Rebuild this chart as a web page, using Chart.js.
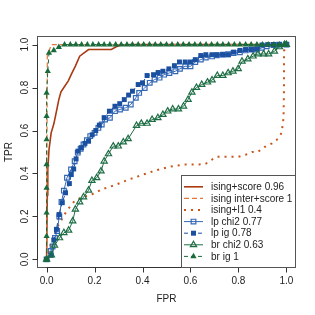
<!DOCTYPE html>
<html><head><meta charset="utf-8">
<script src="https://cdn.jsdelivr.net/npm/chart.js@4/dist/chart.umd.min.js"></script>
<style>html,body{margin:0;padding:0;background:#fff}#wrap{width:315px;height:315px}</style>
</head><body><div id="wrap"><canvas id="c" width="315" height="315"></canvas></div>
<script>
// ---- data ----
const xTicks = [0, 0.2, 0.4, 0.6, 0.8, 1];
const yTicks = [0, 0.2, 0.4, 0.6, 0.8, 1];
const xTickLabels = ["0.0", "0.2", "0.4", "0.6", "0.8", "1.0"];
const yTickLabels = ["0.0", "0.2", "0.4", "0.6", "0.8", "1.0"];
const xTitle = "FPR";
const yTitle = "TPR";
const seriesNames = ["ising+score 0.96", "ising inter+score 1", "ising+l1 0.4", "lp chi2 0.77", "lp ig 0.78", "br chi2 0.63", "br ig 1"];

const isingScoreFpr = [0, 0.003, 0.005, 0.01, 0.019, 0.03, 0.037, 0.051, 0.06, 0.072, 0.09, 0.106, 0.12, 0.138, 0.155, 0.175, 0.2, 0.25, 0.27, 0.29, 0.306, 0.35, 1];
const isingScoreTpr = [0, 0.3, 0.42, 0.51, 0.589, 0.63, 0.667, 0.744, 0.78, 0.80, 0.83, 0.868, 0.9, 0.946, 0.96, 0.977, 0.977, 0.977, 0.977, 0.99, 0.997, 1, 1];

const isingInterFpr = [0, 0.003, 0.02, 1];
const isingInterTpr = [0, 0.95, 1, 1];

const isingL1Fpr = [0, 0.01, 0.02, 0.037, 0.051, 0.079, 0.099, 0.12, 0.175, 0.2, 0.23, 0.285, 0.343, 0.4, 0.457, 0.512, 0.574, 0.636, 0.663, 0.69, 0.71, 0.80, 0.83, 0.857, 0.88, 0.91, 0.94, 0.964, 0.98, 0.988, 0.99, 0.99, 1];
const isingL1Tpr = [0, 0.04, 0.08, 0.132, 0.163, 0.217, 0.248, 0.276, 0.299, 0.307, 0.326, 0.346, 0.372, 0.394, 0.415, 0.431, 0.442, 0.442, 0.445, 0.465, 0.478, 0.478, 0.487, 0.50, 0.50, 0.524, 0.54, 0.561, 0.589, 0.66, 0.80, 0.97, 1];

const lpChi2Fpr = [0, 0.017, 0.025, 0.035, 0.044, 0.053, 0.062, 0.072, 0.085, 0.102, 0.117, 0.13, 0.142, 0.154, 0.168, 0.182, 0.2, 0.216, 0.23, 0.244, 0.264, 0.285, 0.306, 0.33, 0.351, 0.372, 0.386, 0.409, 0.43, 0.45, 0.471, 0.49, 0.512, 0.537, 0.556, 0.578, 0.6, 0.62, 0.643, 0.664, 0.69, 0.71, 0.735, 0.757, 0.78, 0.806, 0.83, 0.854, 0.877, 0.898, 0.918, 0.946, 0.97, 1];
const lpChi2Tpr = [0, 0.039, 0.06, 0.1, 0.132, 0.2, 0.267, 0.32, 0.38, 0.419, 0.457, 0.497, 0.515, 0.535, 0.555, 0.574, 0.589, 0.612, 0.628, 0.651, 0.659, 0.69, 0.698, 0.706, 0.721, 0.752, 0.775, 0.798, 0.822, 0.837, 0.846, 0.86, 0.868, 0.876, 0.887, 0.899, 0.899, 0.919, 0.93, 0.94, 0.945, 0.95, 0.953, 0.955, 0.961, 0.964, 0.973, 0.977, 0.977, 0.985, 0.992, 0.998, 1, 1];

const lpIgFpr = [0, 0.019, 0.03, 0.041, 0.052, 0.065, 0.079, 0.095, 0.103, 0.113, 0.123, 0.131, 0.145, 0.16, 0.175, 0.19, 0.205, 0.22, 0.24, 0.262, 0.285, 0.305, 0.324, 0.342, 0.358, 0.382, 0.4, 0.419, 0.446, 0.465, 0.485, 0.51, 0.533, 0.554, 0.578, 0.6, 0.62, 0.643, 0.664, 0.69, 0.71, 0.735, 0.757, 0.78, 0.806, 0.83, 0.854, 0.877, 0.898, 0.922, 0.946, 0.97, 1];
const lpIgTpr = [0, 0.019, 0.09, 0.14, 0.209, 0.264, 0.31, 0.353, 0.395, 0.421, 0.468, 0.504, 0.52, 0.54, 0.55, 0.58, 0.60, 0.625, 0.66, 0.69, 0.713, 0.725, 0.744, 0.765, 0.783, 0.814, 0.822, 0.856, 0.86, 0.87, 0.876, 0.887, 0.902, 0.919, 0.919, 0.919, 0.93, 0.949, 0.953, 0.953, 0.953, 0.953, 0.953, 0.965, 0.973, 0.977, 0.977, 0.98, 0.998, 1, 1, 1, 1];

const brChi2Fpr = [0, 0.02, 0.033, 0.054, 0.072, 0.092, 0.109, 0.12, 0.138, 0.154, 0.175, 0.189, 0.209, 0.227, 0.24, 0.258, 0.278, 0.299, 0.32, 0.34, 0.375, 0.395, 0.419, 0.44, 0.464, 0.485, 0.505, 0.526, 0.55, 0.571, 0.59, 0.606, 0.625, 0.647, 0.671, 0.69, 0.712, 0.735, 0.757, 0.777, 0.799, 0.815, 0.839, 0.861, 0.881, 0.905, 0.926, 0.95, 0.971, 0.992, 1];
const brChi2Tpr = [0, 0.02, 0.065, 0.1, 0.124, 0.135, 0.178, 0.233, 0.267, 0.29, 0.322, 0.367, 0.38, 0.411, 0.457, 0.491, 0.527, 0.527, 0.546, 0.561, 0.623, 0.633, 0.633, 0.651, 0.659, 0.674, 0.69, 0.70, 0.70, 0.713, 0.744, 0.778, 0.80, 0.814, 0.825, 0.835, 0.856, 0.856, 0.868, 0.876, 0.887, 0.922, 0.933, 0.946, 0.956, 0.956, 0.956, 0.969, 0.989, 1, 1];

const brIgFpr = [0, 0, 0, 0, 0, 0, 0, 0, 0.005, 0.01, 0.03, 0.051, 0.075, 0.099, 0.122, 0.146, 0.17, 0.193, 0.217, 0.24, 0.264, 0.288, 0.311, 0.335, 0.358, 0.382, 0.405, 0.429, 0.453, 0.476, 0.5, 0.523, 0.547, 0.57, 0.594, 0.618, 0.641, 0.665, 0.688, 0.712, 0.735, 0.759, 0.783, 0.806, 0.83, 0.853, 0.877, 0.9, 0.924, 0.948, 0.971, 0.995];
const brIgTpr = [0, 0.108, 0.217, 0.333, 0.442, 0.558, 0.667, 0.775, 0.876, 0.961, 0.973, 0.988, 1, 1, 1, 1, 1, 1, 1, 1, 1, 1, 1, 1, 1, 1, 1, 1, 1, 1, 1, 1, 1, 1, 1, 1, 1, 1, 1, 1, 1, 1, 1, 1, 1, 1, 1, 1, 1, 1, 1, 1];

// ---- styles ----
const FONT = '"Liberation Sans", Arial, Helvetica, sans-serif';
const styles = [
  {color: '#A93A12', width: 1.6, dash: [], point: null},
  {color: '#E2783F', width: 1.2, dash: [5, 3], point: null},
  {color: '#C8561B', width: 2, dash: [2, 5], point: null},
  {color: '#3568B5', width: 1, dash: [], point: 'rect', fill: false, r: 3.3},
  {color: '#1B4F9F', width: 1, dash: [4, 3], point: 'rect', fill: true, r: 3.5},
  {color: '#1E6E45', width: 1, dash: [], point: 'triangle', fill: false, r: 3.6},
  {color: '#186B3B', width: 1, dash: [4, 3], point: 'triangle', fill: true, r: 3.6}
];
const seriesX = [isingScoreFpr, isingInterFpr, isingL1Fpr, lpChi2Fpr, lpIgFpr, brChi2Fpr, brIgFpr];
const seriesY = [isingScoreTpr, isingInterTpr, isingL1Tpr, lpChi2Tpr, lpIgTpr, brChi2Tpr, brIgTpr];

const datasets = seriesNames.map((name, i) => {
  const s = styles[i];
  return {
    label: name,
    data: seriesX[i].map((x, k) => ({x: x, y: seriesY[i][k]})),
    borderColor: s.color,
    borderWidth: s.width,
    borderDash: s.dash,
    borderCapStyle: 'butt',
    showLine: true,
    tension: 0,
    fill: false,
    pointStyle: s.point || 'circle',
    pointRadius: s.point ? s.r : 0,
    pointHoverRadius: s.point ? s.r : 0,
    pointBorderColor: s.color,
    pointBackgroundColor: s.fill ? s.color : 'rgba(0,0,0,0)',
    pointBorderWidth: s.fill ? 0 : 1.2,
    order: 10 - i
  };
});

function drawMarker(ctx, s, x, y) {
  if (!s.point) return;
  ctx.save();
  ctx.setLineDash([]);
  ctx.beginPath();
  const r = s.r;
  if (s.point === 'rect') {
    const h = Math.SQRT1_2 * r;
    ctx.rect(x - h, y - h, 2 * h, 2 * h);
  } else {
    ctx.moveTo(x, y - r);
    ctx.lineTo(x + Math.cos(Math.PI / 6) * r, y + r / 2);
    ctx.lineTo(x - Math.cos(Math.PI / 6) * r, y + r / 2);
    ctx.closePath();
  }
  if (s.fill) { ctx.fillStyle = s.color; ctx.fill(); }
  else { ctx.strokeStyle = s.color; ctx.lineWidth = 1.2; ctx.stroke(); }
  ctx.restore();
}

const rAxes = {
  id: 'rAxes',
  afterDraw(chart) {
    const ctx = chart.ctx;
    const a = chart.chartArea;
    const xs = chart.scales.x, ys = chart.scales.y;
    ctx.save();
    // box
    ctx.strokeStyle = '#555';
    ctx.lineWidth = 1;
    ctx.strokeRect(Math.round(a.left) + 0.5, Math.round(a.top) + 0.5, Math.round(a.right - a.left) - 1, Math.round(a.bottom - a.top) - 1);
    ctx.strokeStyle = '#333';
    ctx.fillStyle = '#222';
    ctx.font = '10px ' + FONT;
    // x axis
    const by = Math.round(a.bottom) - 0.5;
    ctx.beginPath();
    ctx.moveTo(xs.getPixelForValue(xTicks[0]), by);
    ctx.lineTo(xs.getPixelForValue(xTicks[xTicks.length - 1]), by);
    xTicks.forEach(v => { const px = Math.round(xs.getPixelForValue(v)) + 0.5; ctx.moveTo(px, by); ctx.lineTo(px, by + 5); });
    ctx.stroke();
    ctx.textAlign = 'center'; ctx.textBaseline = 'middle';
    xTicks.forEach((v, i) => ctx.fillText(xTickLabels[i], xs.getPixelForValue(v), by + 14));
    // y axis
    const lx = Math.round(a.left) + 0.5;
    ctx.beginPath();
    ctx.moveTo(lx, ys.getPixelForValue(yTicks[0]));
    ctx.lineTo(lx, ys.getPixelForValue(yTicks[yTicks.length - 1]));
    yTicks.forEach(v => { const py = Math.round(ys.getPixelForValue(v)) + 0.5; ctx.moveTo(lx, py); ctx.lineTo(lx - 5, py); });
    ctx.stroke();
    yTicks.forEach((v, i) => {
      ctx.save();
      ctx.translate(lx - 12, ys.getPixelForValue(v));
      ctx.rotate(-Math.PI / 2);
      ctx.fillText(yTickLabels[i], 0, 0);
      ctx.restore();
    });
    // titles
    ctx.fillText(xTitle, (a.left + a.right) / 2, by + 32);
    ctx.save();
    ctx.translate(lx - 28, (a.top + a.bottom) / 2);
    ctx.rotate(-Math.PI / 2);
    ctx.fillText(yTitle, 0, 0);
    ctx.restore();

    // legend (bottom right)
    const lw = 115, rowH = 11.6, n = seriesNames.length;
    const L = Math.round(a.right) - lw, B = Math.round(a.bottom);
    const T = B - rowH * (n + 1);
    ctx.fillStyle = '#fff';
    ctx.fillRect(L, T, lw, B - T);
    ctx.strokeStyle = '#555';
    ctx.lineWidth = 1;
    ctx.strokeRect(L + 0.5, Math.round(T) + 0.5, lw - 1, Math.round(B - T) - 1);
    ctx.textAlign = 'left';
    seriesNames.forEach((name, i) => {
      const s = styles[i];
      const cy = T + rowH * (i + 1);
      ctx.save();
      ctx.strokeStyle = s.color;
      ctx.lineWidth = s.width;
      ctx.setLineDash(s.dash);
      ctx.lineCap = 'butt';
      ctx.beginPath();
      ctx.moveTo(L + 3, cy);
      ctx.lineTo(L + 22, cy);
      ctx.stroke();
      ctx.restore();
      drawMarker(ctx, s, L + 12.5, cy);
      ctx.fillStyle = '#222';
      ctx.fillText(name, L + 30, cy + 0.5);
    });
    ctx.restore();
  }
};

new Chart(document.getElementById('c'), {
  type: 'scatter',
  data: {datasets: datasets},
  options: {
    responsive: false,
    animation: false,
    devicePixelRatio: 1,
    layout: {padding: {left: 37, top: 36, right: 19, bottom: 47}},
    plugins: {legend: {display: false}, tooltip: {enabled: false}},
    scales: {
      x: {type: 'linear', min: -0.04, max: 1.04, display: false},
      y: {type: 'linear', min: -0.04, max: 1.04, display: false}
    }
  },
  plugins: [rAxes]
});
</script>
</body></html>
